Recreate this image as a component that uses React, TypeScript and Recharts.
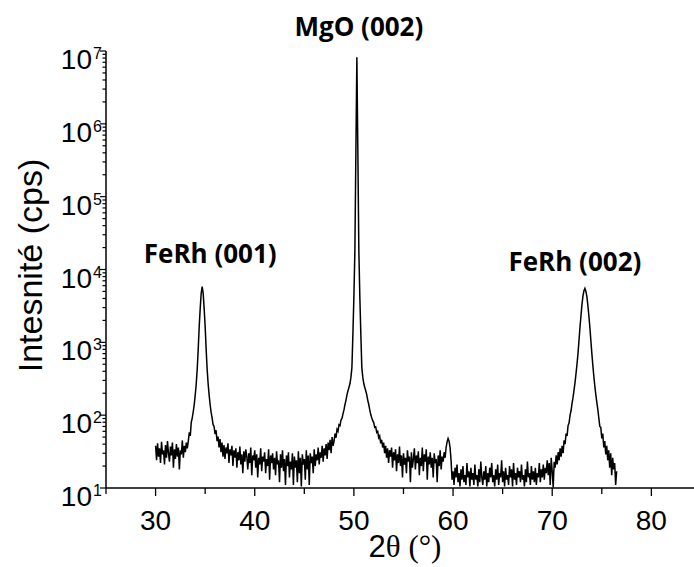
import { Label, Line, LineChart, ReferenceDot, XAxis, YAxis } from 'recharts';

// XRD scan, 2θ from 30.0° in 0.1° steps (counts per second)
const SCAN_START = 30.0;
const SCAN_STEP = 0.1;
const COUNTS = [
  38, 24, 41, 27, 35, 22, 43, 29, 33, 21, // 30
  39, 26, 44, 30, 23, 37, 28, 42, 19, 34, // 31
  25, 40, 27, 36, 18, 33, 29, 45, 26, 38, // 32
  31, 42, 35, 44, 58, 52, 80, 92, 112, 140, // 33
  190, 270, 430, 800, 1650, 2900, 4700, 5800, 4700, 2900, // 34
  1650, 800, 430, 270, 190, 140, 110, 92, 74, 70, // 35
  55, 62, 44, 51, 36, 47, 31, 42, 27, 39, // 36
  25, 36, 30, 41, 22, 34, 28, 38, 20, 33, // 37
  26, 35, 19, 31, 24, 37, 21, 29, 16, 32, // 38
  23, 34, 27, 18, 30, 22, 36, 15, 28, 24, // 39
  33, 19, 29, 14, 26, 21, 35, 17, 27, 23, // 40
  31, 16, 25, 20, 34, 13, 28, 22, 30, 18, // 41
  26, 15, 32, 21, 24, 12, 29, 19, 33, 17, // 42
  25, 11, 28, 20, 31, 14, 23, 18, 30, 11, // 43
  27, 19, 24, 12, 32, 16, 26, 10.5, 29, 21, // 44
  25, 13, 33, 18, 28, 11, 30, 22, 27, 16, // 45
  34, 20, 29, 24, 36, 21, 31, 26, 38, 23, // 46
  35, 28, 40, 25, 42, 33, 46, 30, 50, 38, // 47
  44, 56, 49, 64, 60, 74, 72, 86, 90, 104, // 48
  118, 140, 160, 190, 215, 240, 270, 330, 450, 1300, // 49
  4200, 18000, 400000, 8200000, 400000, 18000, 4200, 1300, 450, 330, // 50
  270, 240, 215, 190, 160, 140, 118, 102, 92, 84, // 51
  79, 68, 69, 58, 60, 49, 52, 41, 46, 36, // 52
  42, 30, 38, 26, 35, 22, 33, 27, 36, 19, // 53
  31, 24, 34, 17, 29, 22, 37, 20, 28, 14, // 54
  30, 21, 26, 16, 33, 23, 27, 12, 31, 19, // 55
  25, 35, 18, 28, 22, 32, 15, 26, 20, 36, // 56
  17, 29, 23, 34, 13, 27, 21, 31, 19, 26, // 57
  14, 30, 22, 25, 12, 28, 20, 33, 18, 27, // 58
  23, 31, 26, 36, 43, 48, 44, 36, 24, 13, // 59
  17, 11, 19, 14, 21, 12, 16, 10.5, 18, 13, // 60
  20, 12, 15, 11, 22, 14, 17, 10.5, 19, 13, // 61
  16, 11, 21, 13, 15, 10.5, 18, 12, 23, 14, // 62
  11, 17, 13, 20, 10.5, 16, 12, 19, 14, 22, // 63
  12, 15, 10.5, 18, 13, 21, 11, 16, 14, 24, // 64
  12, 17, 10.5, 19, 13, 15, 11, 20, 14, 18, // 65
  10.5, 22, 13, 16, 11, 19, 14, 17, 12, 21, // 66
  13, 15, 10.5, 18, 12, 23, 14, 16, 11, 20, // 67
  13, 17, 12, 19, 11, 16, 14, 22, 12, 18, // 68
  14, 21, 13, 19, 16, 24, 15, 22, 11, 26, // 69
  17, 10.2, 23, 19, 28, 21, 31, 24, 35, 27, // 70
  38, 30, 45, 40, 56, 52, 72, 78, 100, 115, // 71
  145, 175, 220, 280, 370, 500, 700, 1050, 1600, 2300, // 72
  3300, 4300, 5100, 5500, 5000, 4200, 3200, 2300, 1600, 1050, // 73
  700, 480, 340, 250, 190, 150, 120, 92, 70, 68, // 74
  48, 56, 36, 44, 29, 38, 24, 33, 19, 30, // 75
  15, 26, 18, 22, 11, 17, // 76
];

const X_TICKS = [25, 30, 35, 40, 45, 50, 55, 60, 65, 70, 75, 80];
const X_LABELED = [30, 40, 50, 60, 70, 80];
const Y_DECADES = [10, 100, 1000, 10000, 100000, 1000000, 10000000];
const Y_MINOR_STEPS = [2, 3, 4, 5, 6, 7, 8, 9];

const PEAKS = [
  { name: 'FeRh (001)', angle: 34.7, counts: 5800, dx: 8, dy: -24 },
  { name: 'MgO (002)', angle: 50.3, counts: 8200000, dx: 2, dy: -21 },
  { name: 'FeRh (002)', angle: 73.3, counts: 5500, dx: -10, dy: -17 },
];

const data = COUNTS.map((counts, i) => ({
  angle: +(SCAN_START + i * SCAN_STEP).toFixed(2),
  counts,
}));

const yTicks = [
  ...Y_DECADES,
  ...Y_DECADES.slice(0, -1).flatMap((d) => Y_MINOR_STEPS.map((m) => d * m)),
].sort((a, b) => a - b);

const SANS = '"Liberation Sans", Arial, sans-serif';
const SERIF = '"Liberation Serif", "Times New Roman", serif';
const LABEL_FONT = '"Open Sans", sans-serif';

function XTick({ x, y, payload }: any) {
  const major = X_LABELED.includes(payload.value);
  return (
    <g>
      <line x1={x} x2={x} y1={y} y2={y + (major ? 8 : 6)} stroke="#000" strokeWidth={1.3} />
      {major && (
        <text x={x} y={y + 42} textAnchor="middle" fontSize={28} fontFamily={SANS} fill="#000">
          {payload.value}
        </text>
      )}
    </g>
  );
}

function YTick({ x, y, payload }: any) {
  const exp = Math.log10(payload.value);
  const major = Math.abs(exp - Math.round(exp)) < 1e-6;
  return (
    <g>
      <line x1={x - (major ? 6 : 3.5)} x2={x} y1={y} y2={y} stroke="#000" strokeWidth={1.2} />
      {major && (
        <>
          <text x={x - 14} y={y + 18} textAnchor="end" fontSize={28} fontFamily={SANS} fill="#000">
            10
          </text>
          <text x={x - 13} y={y + 8} fontSize={16} fontFamily={SANS} fill="#000">
            {Math.round(exp)}
          </text>
        </>
      )}
    </g>
  );
}

function peakLabel(name: string, dx: number, dy: number) {
  return ({ viewBox }: any) => (
    <text
      x={viewBox.x + viewBox.width / 2 + dx}
      y={viewBox.y + viewBox.height / 2 + dy}
      textAnchor="middle"
      fontSize={26}
      fontWeight={700}
      fontFamily={LABEL_FONT}
      fill="#000"
    >
      {name}
    </text>
  );
}

const yTitle = ({ viewBox }: any) => {
  const cx = viewBox.x + 42;
  const cy = viewBox.y + viewBox.height / 2 - 4;
  return (
    <text x={cx} y={cy} transform={`rotate(-90 ${cx} ${cy})`} textAnchor="middle" fontSize={34} fontFamily={SANS} fill="#000">
      Intesnité (cps)
    </text>
  );
};

const xTitle = ({ viewBox }: any) => (
  <text x={viewBox.x + viewBox.width / 2 + 5} y={viewBox.y + 69} textAnchor="middle" fill="#000">
    <tspan fontFamily={SANS} fontSize={31}>2</tspan>
    <tspan fontFamily={SERIF} fontSize={31}>θ (°)</tspan>
  </text>
);

export default function App() {
  return (
    <div style={{ position: 'absolute', left: 0, top: 0, background: '#fff' }}>
      <LineChart width={694} height={567} data={data} margin={{ top: 51, right: 0, bottom: 0, left: 0 }}>
        <XAxis
          dataKey="angle"
          type="number"
          domain={[25, 84.3]}
          ticks={X_TICKS}
          interval={0}
          allowDataOverflow
          height={79}
          axisLine={{ stroke: '#000', strokeWidth: 1.5 }}
          tickLine={false}
          tickSize={0}
          tickMargin={0}
          tick={<XTick />}
        >
          <Label content={xTitle} />
        </XAxis>
        <YAxis
          type="number"
          scale="log"
          domain={[10, 10000000]}
          ticks={yTicks}
          interval={0}
          allowDataOverflow
          width={106}
          axisLine={{ stroke: '#000', strokeWidth: 1.5 }}
          tickLine={false}
          tickSize={0}
          tickMargin={0}
          tick={<YTick />}
        >
          <Label content={yTitle} />
        </YAxis>
        <Line
          type="linear"
          dataKey="counts"
          stroke="#000"
          strokeWidth={1.5}
          dot={false}
          isAnimationActive={false}
        />
        {PEAKS.map((p) => (
          <ReferenceDot key={p.name} x={p.angle} y={p.counts} r={1} fill="none" stroke="none">
            <Label content={peakLabel(p.name, p.dx, p.dy)} />
          </ReferenceDot>
        ))}
      </LineChart>
    </div>
  );
}
